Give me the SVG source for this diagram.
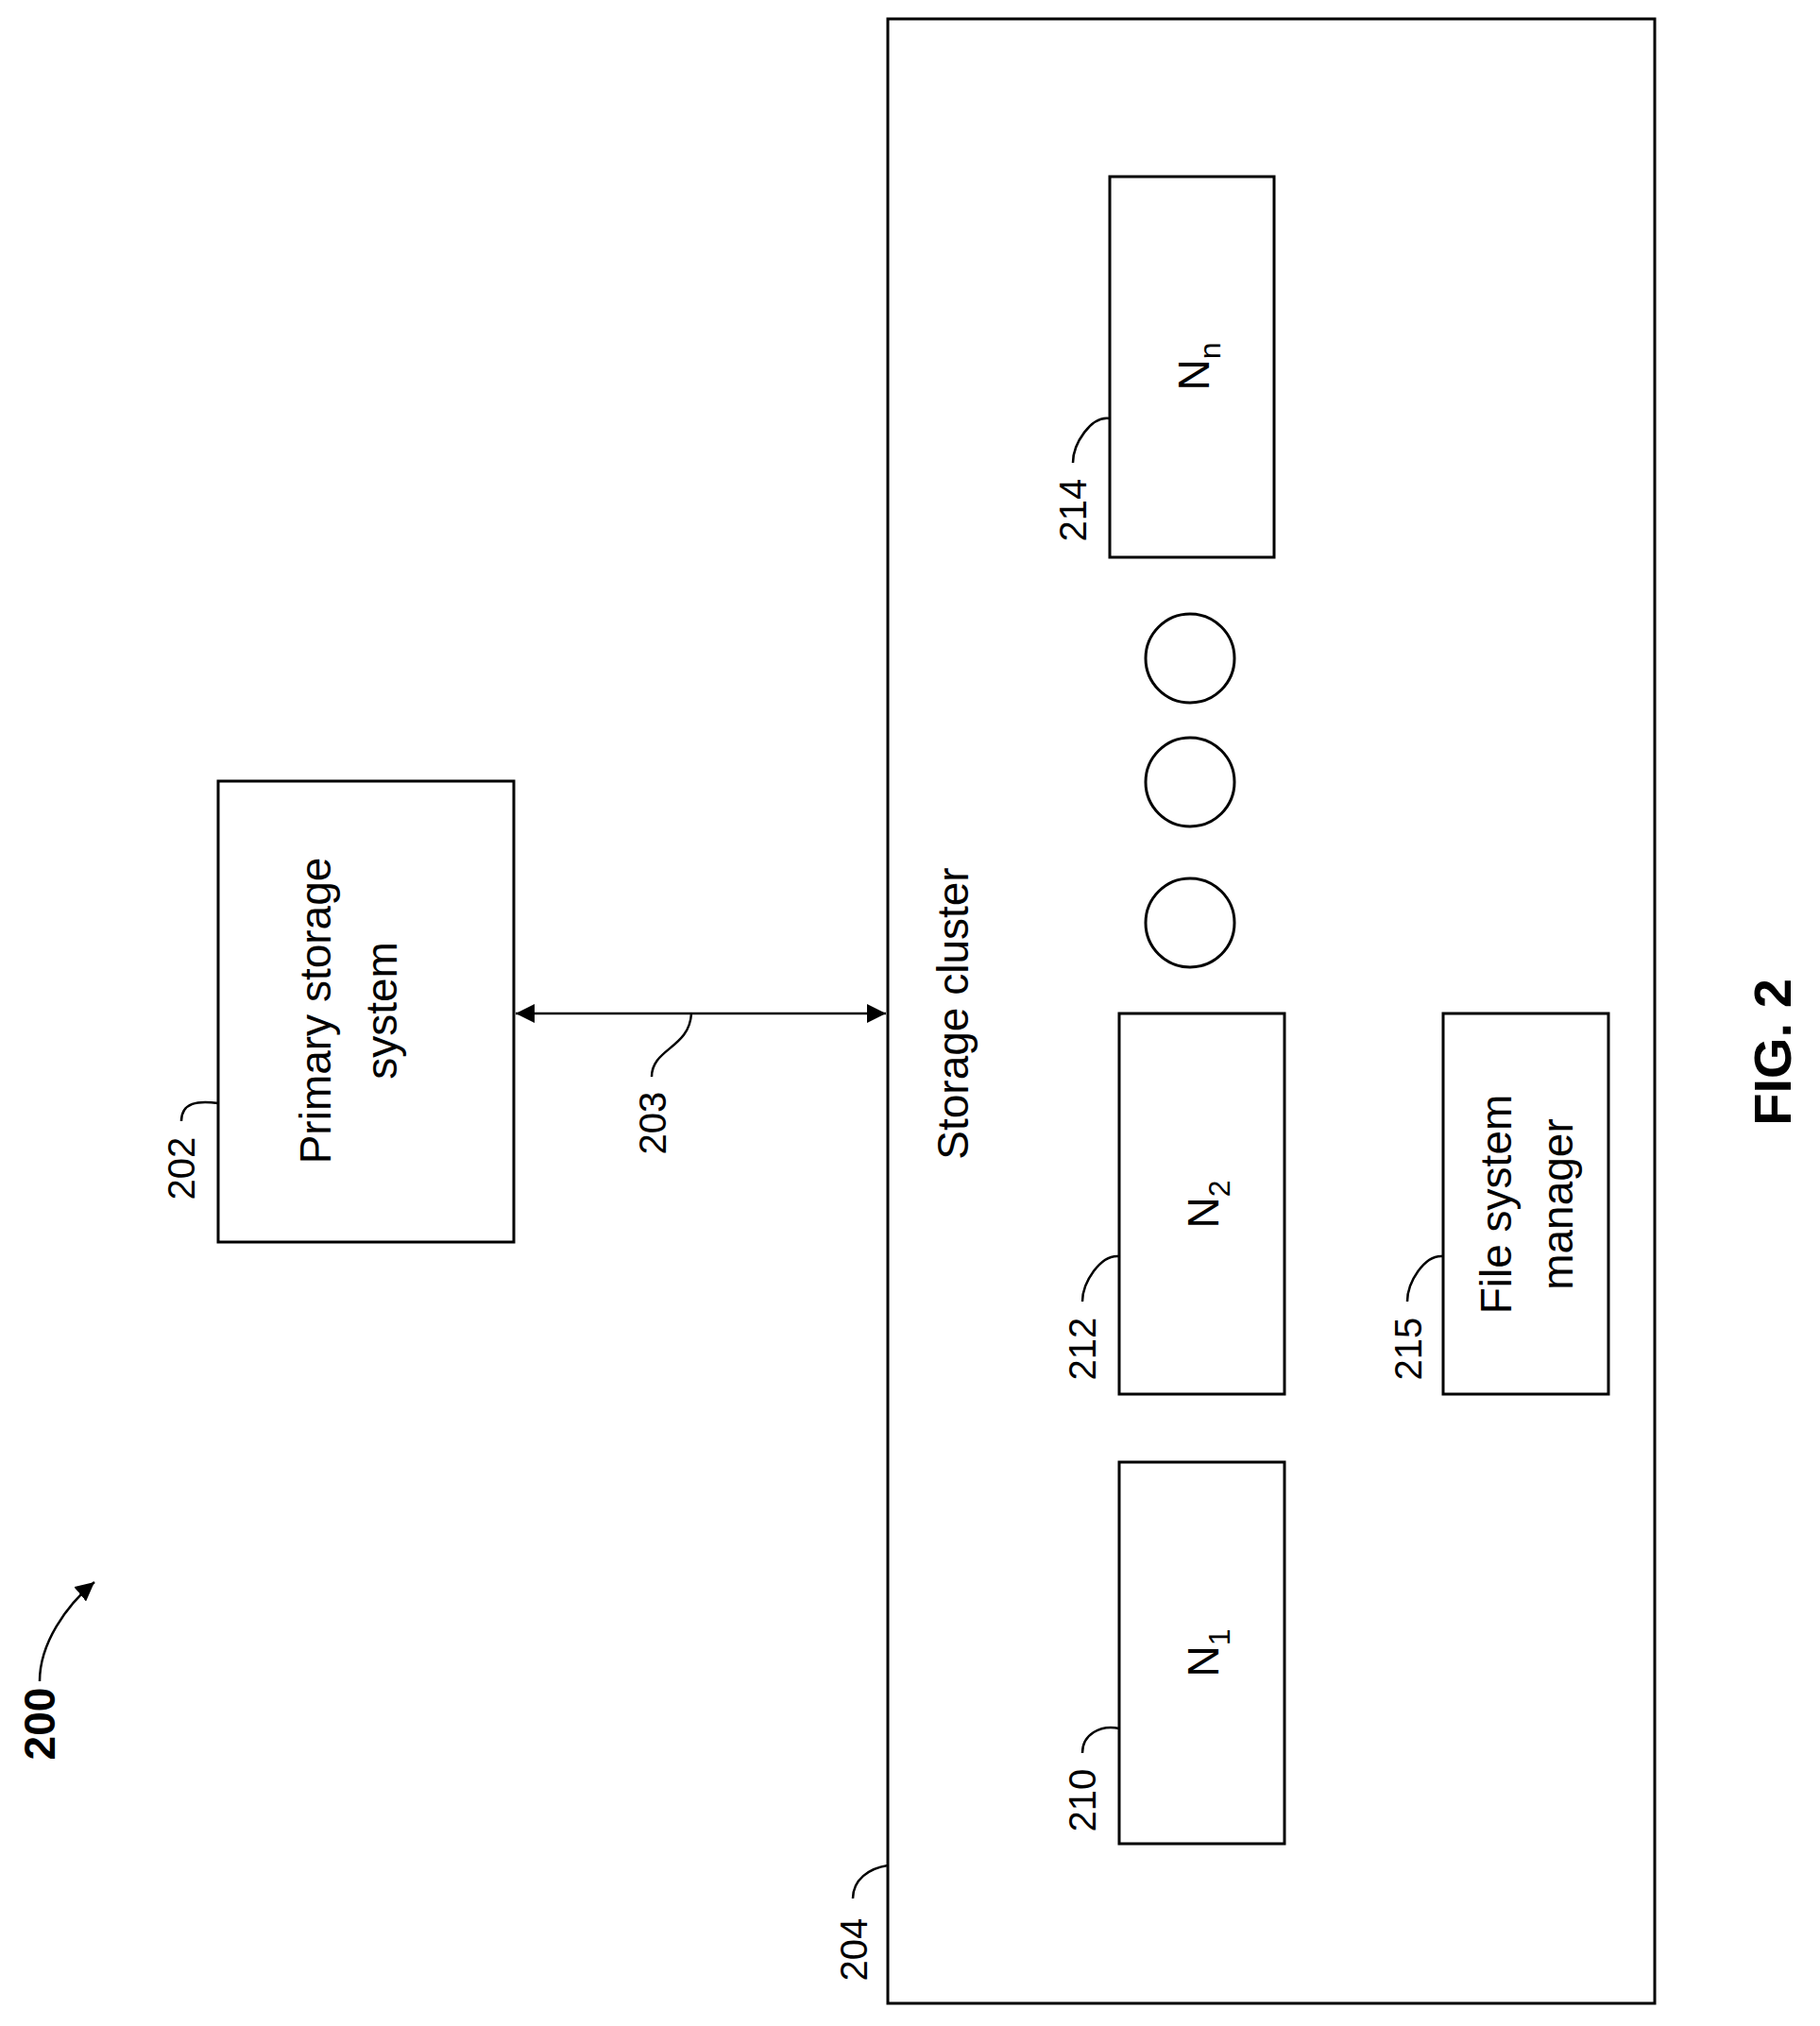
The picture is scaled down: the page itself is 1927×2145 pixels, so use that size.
<svg xmlns="http://www.w3.org/2000/svg" width="1927" height="2145" viewBox="0 0 1927 2145">
<defs>
<style>
.b{fill:#fff;stroke:#000;stroke-width:3}
.l{fill:none;stroke:#000;stroke-width:2.5}
.t{font-family:"Liberation Sans",Arial,sans-serif;font-size:46px;text-anchor:middle}
.n{font-family:"Liberation Sans",Arial,sans-serif;font-size:40px;text-anchor:middle}
</style>
<marker id="a" viewBox="0 0 10 10" refX="10" refY="5" markerWidth="8" markerHeight="8" orient="auto-start-reverse"><path d="M0,0L10,5L0,10z"/></marker>
</defs>
<rect width="1927" height="2145" fill="#fff"/>
<g id="fig200">
<text x="0" y="0" transform="translate(58,1825) rotate(-90)" class="t" style="font-weight:bold">200</text>
<path class="l" d="M42,1780 C42,1740 70,1700 100,1675" stroke-width="4" marker-end="url(#a)"/>
</g>
<g id="n204"><rect class="b" x="940" y="20" width="812" height="2101"/>
<text transform="translate(1025,1073) rotate(-90)" class="t">Storage cluster</text>
<text transform="translate(918,2064) rotate(-90)" class="n">204</text>
<path class="l" d="M903,2010 C903,1990 920,1978 940,1975"/></g>
<g id="n202"><rect class="b" x="231" y="827" width="313" height="488"/>
<text transform="translate(350,1070) rotate(-90)" class="t">Primary storage</text>
<text transform="translate(420,1070) rotate(-90)" class="t">system</text>
<text transform="translate(206,1237) rotate(-90)" class="n">202</text>
<path class="l" d="M192,1187 C192,1167 210,1165 231,1168"/></g>
<g id="n210"><rect class="b" x="1185" y="1548" width="175" height="404"/>
<text transform="translate(1290,1750) rotate(-90)" class="t">N<tspan font-size="32" dy="12">1</tspan></text>
<text transform="translate(1160,1906) rotate(-90)" class="n">210</text>
<path class="l" d="M1146,1856 C1146,1836 1165,1826 1185,1830"/></g>
<g id="n212"><rect class="b" x="1185" y="1073" width="175" height="403"/>
<text transform="translate(1290,1275) rotate(-90)" class="t">N<tspan font-size="32" dy="12">2</tspan></text>
<text transform="translate(1160,1428) rotate(-90)" class="n">212</text>
<path class="l" d="M1146,1378 C1146,1358 1165,1328 1185,1330"/></g>
<g id="n214"><rect class="b" x="1175" y="187" width="174" height="403"/>
<text transform="translate(1280,388) rotate(-90)" class="t">N<tspan font-size="32" dy="12">n</tspan></text>
<text transform="translate(1150,540) rotate(-90)" class="n">214</text>
<path class="l" d="M1136,490 C1136,470 1155,440 1175,443"/></g>
<g id="n215"><rect class="b" x="1528" y="1073" width="175" height="403"/>
<text transform="translate(1600,1275) rotate(-90)" class="t">File system</text>
<text transform="translate(1665,1275) rotate(-90)" class="t">manager</text>
<text transform="translate(1505,1428) rotate(-90)" class="n">215</text>
<path class="l" d="M1490,1378 C1490,1358 1508,1328 1528,1330"/></g>
<g id="dots"><circle class="b" cx="1260" cy="697" r="47"/><circle class="b" cx="1260" cy="828" r="47"/><circle class="b" cx="1260" cy="977" r="47"/></g>
<g id="connectors">
<line class="l" x1="546" y1="1073" x2="938" y2="1073" stroke-width="3" marker-start="url(#a)" marker-end="url(#a)"/>
<text transform="translate(705,1189) rotate(-90)" class="n">203</text>
<path class="l" d="M690,1140 C690,1110 730,1110 732,1073"/>
</g>
<text transform="translate(1896,1114) rotate(-90)" class="t" style="font-weight:bold;font-size:56px">FIG. 2</text>
</svg>
